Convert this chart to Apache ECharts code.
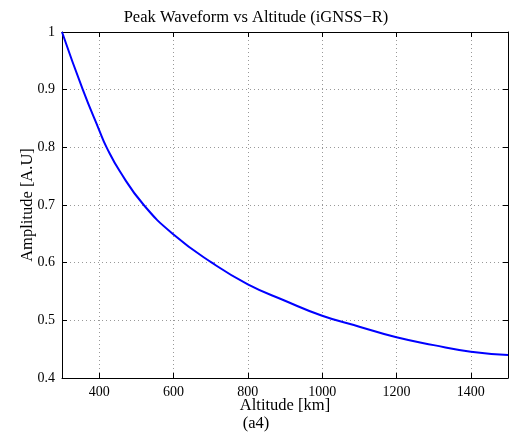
<!DOCTYPE html>
<html>
<head>
<meta charset="utf-8">
<script src="https://cdn.jsdelivr.net/npm/echarts@6/dist/echarts.min.js"></script>
<style>html,body{margin:0;padding:0;background:#fff}#c{width:512px;height:433px}</style>
</head>
<body>
<div id="c"></div>
<script>
var titleText = 'Peak Waveform vs Altitude (iGNSS\u2212R)';
var xName = 'Altitude [km]';
var subName = '(a4)';
var yName = 'Amplitude [A.U]';
var xTicks = [400, 600, 800, 1000, 1200, 1400];
var yTicks = [0.4, 0.5, 0.6, 0.7, 0.8, 0.9, 1];
var altitudes = [300, 356, 400, 420, 456, 520, 600, 703, 800, 900, 1000, 1100, 1200, 1300, 1400, 1500];
var amplitudes = [1.0, 0.9, 0.83, 0.8, 0.758, 0.7, 0.649, 0.6, 0.5625, 0.534, 0.508, 0.489, 0.4705, 0.457, 0.4457, 0.44];

var data = altitudes.map(function (a, i) { return [a, amplitudes[i]]; });
var font = 'Liberation Serif';
var chart = echarts.init(document.getElementById('c'), null, {renderer: 'canvas'});
function tick(vals) { return {show: true, inside: true, length: 5, customValues: vals, lineStyle: {color: '#000', width: 1}}; }
var gridLine = {show: true, lineStyle: {color: '#999', type: [1, 3], width: 1}};
chart.setOption({
  animation: false,
  backgroundColor: '#fff',
  title: [
    {text: titleText, left: 'center', top: 4, textStyle: {fontFamily: font, fontSize: 16.5, fontWeight: 'normal', color: '#000'}},
    {text: subName, left: 'center', top: 410, textStyle: {fontFamily: font, fontSize: 16.5, fontWeight: 'normal', color: '#000'}}
  ],
  grid: {left: 62, right: 4, top: 32, bottom: 55, containLabel: false},
  xAxis: [
    {type: 'value', min: 300, max: 1500, position: 'bottom',
     name: xName, nameLocation: 'middle', nameGap: 19, nameMoveOverlap: false,
     nameTextStyle: {fontFamily: font, fontSize: 16.5, color: '#000'},
     axisLine: {show: true, onZero: false, lineStyle: {color: '#000', width: 1}},
     axisTick: tick(xTicks),
     axisLabel: {fontFamily: font, fontSize: 14, color: '#000', margin: 7, customValues: xTicks,
                 formatter: function (v) { return String(Math.round(v)); }},
     splitLine: gridLine},
    {type: 'value', min: 300, max: 1500, position: 'top',
     axisLine: {show: true, onZero: false, lineStyle: {color: '#000', width: 1}},
     axisTick: tick(xTicks), axisLabel: {show: false}, splitLine: {show: false}}
  ],
  yAxis: [
    {type: 'value', min: 0.4, max: 1, position: 'left',
     name: yName, nameLocation: 'middle', nameGap: 26, nameRotate: 90, nameMoveOverlap: false,
     nameTextStyle: {fontFamily: font, fontSize: 16.5, color: '#000'},
     axisLine: {show: true, onZero: false, lineStyle: {color: '#000', width: 1}},
     axisTick: tick(yTicks),
     axisLabel: {fontFamily: font, fontSize: 14, color: '#000', margin: 7, customValues: yTicks,
                 formatter: function (v) { return String(Math.round(v * 10) / 10); }},
     splitLine: gridLine},
    {type: 'value', min: 0.4, max: 1, position: 'right',
     axisLine: {show: true, onZero: false, lineStyle: {color: '#000', width: 1}},
     axisTick: tick(yTicks), axisLabel: {show: false}, splitLine: {show: false}}
  ],
  series: [{
    type: 'line', data: data, xAxisIndex: 0, yAxisIndex: 0,
    showSymbol: false, smooth: 0.5,
    lineStyle: {color: '#0000ff', width: 2}
  }]
});
</script>
</body>
</html>
